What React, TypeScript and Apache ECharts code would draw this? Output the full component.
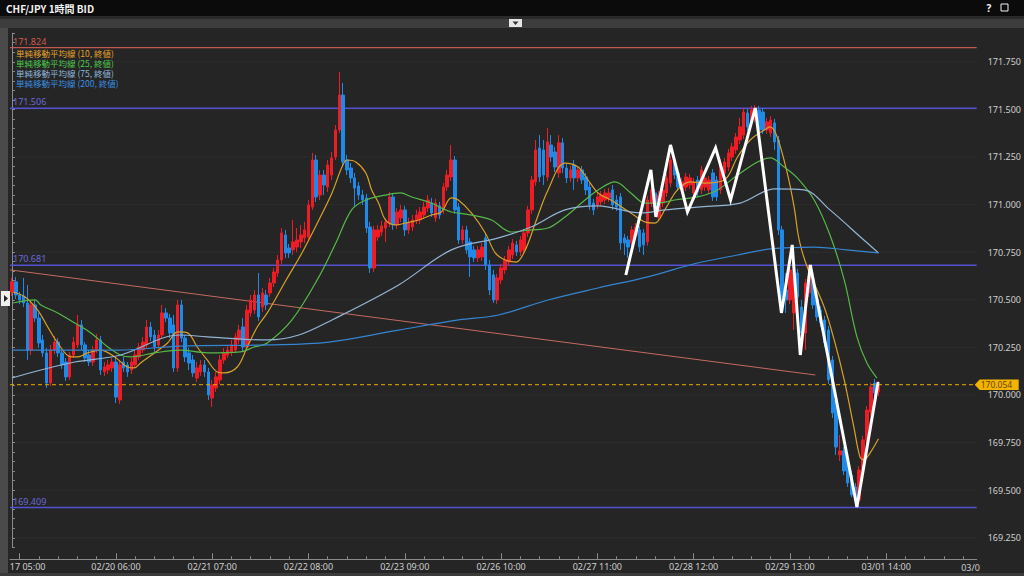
import React, { useEffect, useRef } from "react";
import * as echarts from "echarts";

const chartTitle = "CHF/JPY 1時間 BID";
const categoryCount = 251;

const opens = [
  170.541, 170.594, 170.525, 170.520, 170.483, 170.236, 170.473, 170.404, 170.289, 170.221,
  170.063, 170.236, 170.278, 170.221, 170.173, 170.095, 170.210, 170.263, 170.368, 170.263,
  170.210, 170.173, 170.236, 170.289, 170.121, 170.131, 170.142, 170.173, 169.974, 170.173,
  170.158, 170.131, 170.158, 170.200, 170.236, 170.263, 170.357, 170.315, 170.263, 170.315,
  170.431, 170.404, 170.368, 170.142, 170.473, 170.299, 170.221, 170.184, 170.089, 170.121,
  170.158, 170.121, 169.984, 170.037, 170.079, 170.184, 170.210, 170.226, 170.236, 170.289,
  170.357, 170.252, 170.431, 170.446, 170.525, 170.462, 170.525, 170.536, 170.588, 170.641,
  170.709, 170.840, 170.772, 170.762, 170.777, 170.804, 170.825, 170.830, 170.987, 171.234,
  171.050, 171.155, 171.092, 171.155, 171.250, 171.392, 171.575, 171.234, 171.192, 171.140,
  171.098, 171.050, 171.035, 170.882, 170.667, 170.830, 170.856, 170.877, 170.903, 171.040,
  170.893, 170.930, 170.972, 170.867, 170.882, 170.919, 170.919, 170.945, 170.982, 171.008,
  170.930, 170.993, 170.972, 171.092, 171.145, 171.234, 170.987, 170.814, 170.867, 170.804,
  170.762, 170.720, 170.725, 170.825, 170.683, 170.630, 170.499, 170.604, 170.657, 170.698,
  170.735, 170.788, 170.751, 170.762, 170.851, 170.972, 171.119, 171.297, 171.287, 171.145,
  171.313, 171.276, 171.166, 171.324, 171.192, 171.140, 171.208, 171.140, 171.182, 171.145,
  171.092, 171.008, 170.998, 171.014, 171.024, 171.035, 171.077, 171.024, 171.040, 170.825,
  170.814, 170.798, 170.840, 170.867, 170.851, 170.804, 171.008, 171.061, 170.935, 171.008,
  171.061, 171.113, 171.234, 171.166, 171.077, 171.092, 171.103, 171.061, 171.129, 171.077,
  171.092, 171.077, 171.166, 171.129, 171.077, 171.166, 171.197, 171.250, 171.287, 171.339,
  171.365, 171.481, 171.429, 171.455, 171.497, 171.486, 171.392, 171.376, 171.429, 171.339,
  170.867, 170.551, 170.499, 170.431, 170.641, 170.462, 170.326, 170.536, 170.604, 170.499,
  170.446, 170.394, 170.341, 170.184, 169.974, 169.685, 169.706, 169.659, 169.580, 169.517,
  169.449, 169.606, 169.764, 169.911, 170.063, 170.016,
];

const closes = [
  170.594, 170.525, 170.499, 170.483, 170.236, 170.473, 170.404, 170.273, 170.221, 170.063,
  170.236, 170.278, 170.221, 170.158, 170.095, 170.210, 170.278, 170.368, 170.263, 170.194,
  170.173, 170.236, 170.289, 170.131, 170.147, 170.158, 170.173, 169.989, 170.158, 170.142,
  170.121, 170.173, 170.210, 170.252, 170.278, 170.357, 170.305, 170.252, 170.315, 170.431,
  170.404, 170.326, 170.142, 170.473, 170.299, 170.200, 170.168, 170.116, 170.142, 170.158,
  170.121, 170.000, 170.053, 170.095, 170.184, 170.221, 170.236, 170.263, 170.305, 170.341,
  170.252, 170.446, 170.499, 170.525, 170.410, 170.536, 170.473, 170.588, 170.646, 170.709,
  170.851, 170.746, 170.746, 170.804, 170.814, 170.840, 170.867, 170.998, 171.234, 171.040,
  171.155, 171.103, 171.208, 171.245, 171.392, 171.575, 171.224, 171.182, 171.140, 171.087,
  171.050, 171.024, 170.877, 170.667, 170.867, 170.867, 170.888, 170.909, 171.040, 170.893,
  170.961, 170.972, 170.867, 170.903, 170.919, 170.945, 170.961, 170.987, 171.024, 170.956,
  171.008, 170.945, 171.092, 171.155, 171.234, 170.972, 170.814, 170.867, 170.762, 170.725,
  170.720, 170.762, 170.777, 170.683, 170.551, 170.499, 170.615, 170.667, 170.709, 170.762,
  170.798, 170.751, 170.814, 170.851, 170.972, 171.129, 171.287, 171.145, 171.155, 171.329,
  171.250, 171.197, 171.324, 171.192, 171.140, 171.182, 171.140, 171.182, 171.129, 171.077,
  170.998, 170.972, 171.040, 171.050, 171.061, 171.061, 170.998, 170.987, 170.798, 170.798,
  170.777, 170.867, 170.882, 170.777, 170.788, 171.024, 171.077, 170.987, 171.050, 171.077,
  171.140, 171.234, 171.155, 171.092, 171.119, 171.145, 171.140, 171.119, 171.066, 171.182,
  171.140, 171.129, 171.040, 171.040, 171.218, 171.224, 171.271, 171.303, 171.355, 171.408,
  171.486, 171.408, 171.497, 171.507, 171.392, 171.392, 171.434, 171.444, 171.329, 170.867,
  170.515, 170.499, 170.657, 170.641, 170.515, 170.326, 170.588, 170.620, 170.473, 170.410,
  170.378, 170.273, 170.079, 169.905, 169.727, 169.706, 169.601, 169.538, 169.475, 169.449,
  169.606, 169.764, 169.921, 170.042, 170.011, 170.053,
];

const lows = [
  170.520, 170.504, 170.478, 170.462, 170.184, 170.210, 170.383, 170.247, 170.200, 170.037,
  170.047, 170.215, 170.200, 170.137, 170.074, 170.079, 170.194, 170.247, 170.236, 170.173,
  170.152, 170.152, 170.221, 170.105, 170.100, 170.110, 170.121, 169.958, 169.953, 170.121,
  170.095, 170.110, 170.142, 170.184, 170.221, 170.247, 170.284, 170.226, 170.242, 170.299,
  170.383, 170.299, 170.121, 170.121, 170.278, 170.173, 170.131, 170.095, 170.068, 170.100,
  170.095, 169.974, 169.937, 170.016, 170.058, 170.163, 170.194, 170.205, 170.221, 170.268,
  170.226, 170.236, 170.410, 170.425, 170.389, 170.436, 170.446, 170.515, 170.567, 170.620,
  170.688, 170.720, 170.720, 170.735, 170.751, 170.772, 170.798, 170.814, 170.972, 171.014,
  171.024, 171.050, 171.066, 171.129, 171.234, 171.376, 171.203, 171.155, 171.113, 170.987,
  171.024, 170.998, 170.851, 170.641, 170.646, 170.809, 170.835, 170.804, 170.882, 170.867,
  170.872, 170.909, 170.835, 170.846, 170.861, 170.898, 170.898, 170.924, 170.961, 170.935,
  170.909, 170.924, 170.951, 171.071, 171.124, 170.951, 170.793, 170.793, 170.741, 170.620,
  170.698, 170.698, 170.704, 170.657, 170.525, 170.483, 170.478, 170.583, 170.636, 170.678,
  170.714, 170.730, 170.730, 170.741, 170.830, 170.951, 171.098, 171.119, 171.103, 171.124,
  171.224, 171.171, 171.140, 171.166, 171.113, 171.119, 171.077, 171.119, 171.108, 171.050,
  170.972, 170.945, 170.977, 170.993, 171.003, 171.014, 170.972, 170.966, 170.762, 170.735,
  170.720, 170.777, 170.819, 170.751, 170.735, 170.783, 170.987, 170.966, 170.914, 170.987,
  171.040, 171.092, 171.134, 171.071, 171.056, 171.071, 171.082, 171.040, 171.045, 171.056,
  171.071, 171.056, 171.019, 171.019, 171.056, 171.145, 171.176, 171.229, 171.266, 171.318,
  171.344, 171.387, 171.408, 171.434, 171.371, 171.371, 171.371, 171.355, 171.287, 170.840,
  170.431, 170.431, 170.478, 170.341, 170.494, 170.263, 170.236, 170.515, 170.452, 170.389,
  170.357, 170.252, 170.058, 169.879, 169.685, 169.653, 169.580, 169.517, 169.464, 169.412,
  169.428, 169.585, 169.743, 169.890, 169.989, 169.995,
];

const highs = [
  170.615, 170.620, 170.541, 170.615, 170.578, 170.499, 170.499, 170.431, 170.315, 170.247,
  170.263, 170.310, 170.299, 170.236, 170.194, 170.226, 170.305, 170.420, 170.394, 170.278,
  170.236, 170.257, 170.320, 170.310, 170.173, 170.184, 170.194, 170.194, 170.184, 170.200,
  170.173, 170.194, 170.236, 170.273, 170.305, 170.394, 170.383, 170.341, 170.341, 170.473,
  170.457, 170.425, 170.420, 170.499, 170.499, 170.315, 170.247, 170.210, 170.173, 170.184,
  170.184, 170.142, 170.079, 170.121, 170.210, 170.247, 170.263, 170.289, 170.326, 170.368,
  170.404, 170.473, 170.525, 170.551, 170.641, 170.562, 170.551, 170.615, 170.667, 170.735,
  170.877, 170.867, 170.793, 170.919, 170.877, 170.893, 170.909, 171.024, 171.271, 171.261,
  171.182, 171.182, 171.234, 171.276, 171.418, 171.696, 171.639, 171.261, 171.218, 171.166,
  171.119, 171.077, 171.056, 170.909, 170.888, 170.893, 170.914, 170.930, 171.066, 171.061,
  170.982, 170.998, 170.993, 170.930, 170.945, 170.972, 170.987, 171.014, 171.050, 171.035,
  171.030, 171.014, 171.113, 171.182, 171.313, 171.255, 171.008, 170.888, 170.888, 170.825,
  170.783, 170.783, 170.798, 170.846, 170.709, 170.657, 170.636, 170.688, 170.730, 170.783,
  170.819, 170.809, 170.835, 170.872, 170.993, 171.150, 171.339, 171.365, 171.339, 171.402,
  171.365, 171.303, 171.365, 171.350, 171.213, 171.203, 171.234, 171.203, 171.203, 171.166,
  171.113, 171.030, 171.061, 171.071, 171.082, 171.087, 171.103, 171.050, 171.061, 170.846,
  170.835, 170.888, 170.903, 170.888, 170.872, 171.045, 171.098, 171.082, 171.071, 171.098,
  171.161, 171.255, 171.255, 171.187, 171.140, 171.166, 171.161, 171.140, 171.150, 171.203,
  171.161, 171.150, 171.187, 171.150, 171.240, 171.245, 171.292, 171.324, 171.376, 171.455,
  171.507, 171.502, 171.518, 171.523, 171.518, 171.507, 171.455, 171.465, 171.450, 171.360,
  170.888, 170.641, 170.735, 170.683, 170.662, 170.499, 170.609, 170.683, 170.625, 170.520,
  170.467, 170.415, 170.362, 170.205, 169.995, 169.790, 169.727, 169.680, 169.601, 169.538,
  169.627, 169.785, 169.942, 170.063, 170.084, 170.074,
];

// Moving averages, read as [bar index, price]
const ma10Points = [
  [0.3, 170.541], [3.4, 170.515], [6.7, 170.446], [9.3, 170.357], [11.9, 170.273], [15.3, 170.2],
  [17.1, 170.2], [19.7, 170.221], [23.0, 170.236], [26.7, 170.2], [30.0, 170.147], [31.8, 170.142],
  [33.4, 170.168], [37.0, 170.221], [40.4, 170.273], [43.0, 170.331], [45.6, 170.326], [48.1, 170.252],
  [50.7, 170.184], [53.3, 170.121], [55.1, 170.116], [58.5, 170.147], [61.1, 170.252], [63.7, 170.357],
  [66.3, 170.431], [71.2, 170.604], [75.3, 170.746], [79.7, 170.919], [83.1, 171.061], [85.7, 171.197],
  [87.0, 171.234], [89.3, 171.224], [91.9, 171.166], [93.4, 171.077], [95.2, 171.008], [97.0, 170.919],
  [99.6, 170.893], [102.2, 170.903], [105.6, 170.919], [108.9, 170.945], [111.5, 170.961], [114.1, 171.035],
  [115.9, 171.024], [119.3, 170.956], [122.9, 170.851], [125.5, 170.746], [128.1, 170.709], [130.9, 170.698],
  [133.3, 170.762], [135.9, 170.903], [139.2, 171.077], [143.6, 171.218], [147.0, 171.197], [149.6, 171.129],
  [152.2, 171.061], [155.5, 171.024], [160.7, 170.956], [164.3, 170.909], [166.9, 170.903], [169.5, 170.972],
  [172.8, 171.077], [176.2, 171.119], [179.8, 171.113], [185.0, 171.129], [188.4, 171.25], [191.7, 171.339],
  [195.4, 171.392], [196.9, 171.408], [198.7, 171.355], [201.3, 171.166], [203.1, 170.987], [204.4, 170.814],
  [206.5, 170.672], [210.9, 170.462], [213.5, 170.289], [216.1, 170.079], [218.6, 169.832], [220.2, 169.674],
  [221.2, 169.659], [222.8, 169.695], [225.0, 169.77],
];
const ma25Points = [
  [0.3, 170.483], [6.0, 170.499], [7.5, 170.473], [11.9, 170.431], [16.3, 170.378], [20.5, 170.326],
  [24.9, 170.252], [28.2, 170.21], [30.8, 170.2], [37.0, 170.221], [43.7, 170.236], [50.7, 170.221],
  [59.3, 170.226], [62.9, 170.252], [66.3, 170.273], [72.7, 170.394], [79.7, 170.62], [84.1, 170.798],
  [88.2, 170.972], [91.9, 171.024], [97.0, 171.05], [100.9, 171.061], [103.8, 171.04], [108.9, 171.008],
  [111.5, 170.982], [114.1, 170.961], [119.3, 170.945], [124.5, 170.919], [129.6, 170.856], [134.8, 170.867],
  [139.2, 170.877], [143.6, 170.935], [148.8, 171.024], [152.2, 171.077], [156.6, 171.119], [160.7, 171.061],
  [164.3, 171.008], [167.7, 171.008], [172.1, 171.024], [178.0, 171.04], [183.2, 171.077], [188.4, 171.155],
  [193.6, 171.224], [196.9, 171.245], [200.5, 171.197], [203.9, 171.14], [208.3, 171.024], [212.4, 170.84],
  [216.1, 170.604], [219.4, 170.305], [222.0, 170.168], [224.6, 170.089],
];
const ma75Points = [
  [0, 170.089], [7.5, 170.131], [16.3, 170.173], [28.2, 170.21], [43.7, 170.315], [50.7, 170.305],
  [66.3, 170.289], [74.5, 170.315], [83.1, 170.394], [100.4, 170.578], [114.1, 170.762], [126.3, 170.825],
  [134.8, 170.882], [143.6, 170.972], [152.2, 170.993], [163.3, 170.956], [169.5, 170.972], [178.0, 170.987],
  [189.1, 171.008], [198.0, 171.082], [205.7, 171.077], [212.4, 170.972], [221.2, 170.814], [225.0, 170.746],
];
const ma200Points = [
  [0, 170.236], [27.9, 170.236], [43.5, 170.257], [66.8, 170.263], [82.3, 170.278], [100.4, 170.341],
  [116.0, 170.394], [126.3, 170.42], [139.2, 170.499], [152.2, 170.562], [165.1, 170.62], [178.0, 170.693],
  [188.4, 170.735], [196.9, 170.767], [208.3, 170.777], [216.8, 170.762], [225.0, 170.746],
];

const zigzagPoints = [
  [159.4, 170.63], [165.9, 171.182], [167.2, 170.935], [171.0, 171.313], [175.4, 170.961],
  [182.7, 171.297], [186.6, 171.024], [193.0, 171.507], [199.8, 170.431], [202.6, 170.788],
  [204.7, 170.21], [207.3, 170.683], [219.4, 169.412], [224.9, 170.068],
];
const trendPoints = [[-0.5, 170.657], [208.6, 170.105]];

const resistanceLevel = 171.824;
const rangeLevels = [171.506, 170.681, 169.409];
const currentPrice = 170.054;
const yLabelValues = [169.25, 169.5, 169.75, 170, 170.25, 170.5, 170.75, 171, 171.25, 171.5, 171.75];

const xTickIndex = [2, 27, 52, 77, 102, 127, 152, 177, 202, 227];
const xTickLabels = [
  "17 05:00", "02/20 06:00", "02/21 07:00", "02/22 08:00", "02/23 09:00",
  "02/26 10:00", "02/27 11:00", "02/28 12:00", "02/29 13:00", "03/01 14:00",
];
const trailingTickLabel = "03/0";

const maNames = [
  "単純移動平均線 (10, 終値)",
  "単純移動平均線 (25, 終値)",
  "単純移動平均線 (75, 終値)",
  "単純移動平均線 (200, 終値)",
];
const maColors = ["#d9a12a", "#56b848", "#93b5d6", "#3585d2"];
const maTextColors = ["#e3a22c", "#4cc84a", "#8fb6dc", "#3a8de0"];

const FONT = '"Noto Sans", "Noto Sans CJK JP", sans-serif';
const JP_FONT = '"Noto Sans CJK JP", "Noto Sans", sans-serif';

function hLine(name: string, value: number, lineStyle: any, z: number) {
  return {
    type: "line",
    name,
    xAxisIndex: 2,
    yAxisIndex: 0,
    data: [[-0.5, value], [categoryCount - 0.5, value]],
    showSymbol: false,
    symbol: "none",
    color: lineStyle.color,
    itemStyle: { color: lineStyle.color },
    lineStyle,
    z,
    silent: true,
  };
}

export default function App() {
  const ref = useRef<HTMLDivElement>(null);

  useEffect(() => {
    if (!ref.current) return;
    const chart = echarts.init(ref.current, undefined, { renderer: "svg" });

    const categories = Array.from({ length: categoryCount }, (_, i) => String(i));
    const candleData = opens.map((o, i) => [o, closes[i], lows[i], highs[i]]);
    const tickSet = new Set(xTickIndex);

    const maSeries = [ma10Points, ma25Points, ma75Points, ma200Points].map((pts, k) => ({
      type: "line",
      name: maNames[k],
      xAxisIndex: 2,
      yAxisIndex: 0,
      data: pts,
      smooth: 0.35,
      showSymbol: false,
      symbol: "none",
      color: maColors[k],
      lineStyle: { color: maColors[k], width: 1.2 },
      z: 3,
      silent: true,
    }));

    const baseGraphics: any[] = [
      { type: "rect", shape: { x: 0, y: 0, width: 1024, height: 16 }, style: { fill: "#0b0b0b" }, z: 100 },
      {
        type: "text", x: 6, y: 8, z: 101,
        style: { text: chartTitle, fill: "#f2f2f2", font: `bold 10px ${JP_FONT}`, verticalAlign: "middle" },
      },
      {
        type: "text", x: 989, y: 8, z: 101,
        style: { text: "?", fill: "#f2f2f2", font: `bold 10px ${FONT}`, verticalAlign: "middle", align: "center" },
      },
      { type: "rect", shape: { x: 1001, y: 4, width: 7, height: 7 }, style: { fill: "none", stroke: "#f2f2f2", lineWidth: 1 }, z: 101 },
      { type: "rect", shape: { x: 0, y: 16, width: 1024, height: 3 }, style: { fill: "#2a2a2a" }, z: 100 },
      { type: "rect", shape: { x: 0, y: 19, width: 1024, height: 9 }, style: { fill: "#3d3d3d" }, z: 100 },
      { type: "rect", shape: { x: 509, y: 19, width: 13, height: 8 }, style: { fill: "#e6e6e6" }, z: 101 },
      { type: "polygon", shape: { points: [[512.5, 21.5], [518.5, 21.5], [515.5, 25]] }, style: { fill: "#333" }, z: 102 },
      { type: "rect", shape: { x: 0, y: 28, width: 8, height: 548 }, style: { fill: "#4a4a4a" }, z: 100 },
      { type: "rect", shape: { x: 1, y: 291, width: 9, height: 15 }, style: { fill: "#efefef" }, z: 101 },
      { type: "polygon", shape: { points: [[4, 295], [4, 302], [8, 298.5]] }, style: { fill: "#222" }, z: 102 },
      { type: "rect", shape: { x: 0, y: 573, width: 1024, height: 3 }, style: { fill: "#3a3a3a" }, z: 100 },
      {
        type: "text", x: 980, y: 567, z: 50,
        style: { text: trailingTickLabel, fill: "#cfcfcf", font: `9px ${FONT}`, align: "right", verticalAlign: "middle" },
      },
      ...maNames.map((n, k) => ({
        type: "text",
        x: 16,
        y: [52.5, 62.8, 73, 83.3][k],
        z: 50,
        style: {
          text: n,
          fill: maTextColors[k],
          fontSize: 8.5,
          fontFamily: JP_FONT,
          lineHeight: 9.5,
          verticalAlign: "middle",
        },
      })),
    ];

    const option: any = {
      animation: false,
      backgroundColor: "#252525",
      textStyle: { fontFamily: FONT },
      grid: { left: 10, right: 44, top: 33.2, bottom: 28.7, containLabel: false },
      xAxis: [
        {
          type: "category",
          data: categories,
          boundaryGap: true,
          position: "bottom",
          offset: 12,
          axisLine: { show: true, lineStyle: { color: "#8a8a8a", width: 1 } },
          axisTick: {
            show: true,
            inside: true,
            length: 3,
            alignWithLabel: true,
            interval: (i: number) => i % 5 === 2,
            lineStyle: { color: "#8a8a8a" },
          },
          axisLabel: {
            show: true,
            interval: (i: number) => tickSet.has(i),
            formatter: (_v: string, i: number) => {
              const k = xTickIndex.indexOf(i);
              if (k < 0) return "";
              return k === 0 ? `{first|${xTickLabels[0]}}` : xTickLabels[k];
            },
            color: "#cfcfcf",
            fontSize: 9,
            fontFamily: FONT,
            margin: 3,
            rich: { first: { padding: [0, 0, 0, 16], color: "#cfcfcf", fontSize: 9, fontFamily: FONT } },
          },
          splitLine: { show: false },
        },
        {
          type: "category",
          data: categories,
          boundaryGap: true,
          position: "bottom",
          offset: 12,
          axisLine: { show: false },
          axisTick: {
            show: true,
            inside: true,
            length: 6,
            alignWithLabel: true,
            interval: (i: number) => tickSet.has(i),
            lineStyle: { color: "#8a8a8a" },
          },
          axisLabel: { show: false },
          splitLine: { show: false },
        },
        { type: "value", min: -0.5, max: categoryCount - 0.5, show: false },
      ],
      yAxis: [
        {
          type: "value",
          position: "right",
          offset: 6,
          min: 169.2,
          max: 171.9,
          interval: 0.05,
          axisLine: { show: true, lineStyle: { color: "#8a8a8a", width: 1 } },
          axisTick: { show: true, inside: false, length: 3, lineStyle: { color: "#8a8a8a" } },
          axisLabel: {
            show: true,
            margin: 5,
            color: "#cfcfcf",
            fontSize: 9,
            lineHeight: 9,
            fontFamily: FONT,
            formatter: (v: number) =>
              Math.abs(v * 4 - Math.round(v * 4)) < 1e-6 ? v.toFixed(3) : "",
          },
          splitLine: { show: false },
        },
      ],
      graphic: baseGraphics,
      series: [
        ...yLabelValues.map((v, k) =>
          hLine("grid" + k, v, { color: "rgba(255,255,255,0.07)", width: 1, type: "dotted" }, 1)
        ),
        hLine("resistance", resistanceLevel, { color: "#c25a50", width: 1.4, type: "solid" }, 1),
        ...rangeLevels.map((v, k) =>
          hLine("range" + k, v, { color: "#5252d2", width: 1.4, type: "solid" }, 1)
        ),
        {
          type: "line",
          name: "trend",
          xAxisIndex: 2,
          yAxisIndex: 0,
          data: trendPoints,
          showSymbol: false,
          symbol: "none",
          color: "#c46a60",
          lineStyle: { color: "#c46a60", width: 1 },
          z: 1,
          silent: true,
        },
        {
          type: "candlestick",
          xAxisIndex: 0,
          yAxisIndex: 0,
          data: candleData,
          barWidth: 3,
          itemStyle: {
            color: "#ee1c24",
            color0: "#1f8ae8",
            borderColor: "#ee1c24",
            borderColor0: "#1f8ae8",
            borderWidth: 1,
          },
          z: 2,
        },
        ...maSeries,
        hLine("price", currentPrice, { color: "#e8a800", width: 1, type: [4, 3] }, 4),
        {
          type: "line",
          xAxisIndex: 2,
          yAxisIndex: 0,
          data: zigzagPoints,
          showSymbol: false,
          symbol: "none",
          color: "#ffffff",
          lineStyle: { color: "#ffffff", width: 3, join: "miter" },
          z: 6,
          silent: true,
        },
      ],
    };

    chart.setOption(option);

    // Level labels and the price tag, placed through the chart's own scales
    const toPx = (x: number, y: number) =>
      chart.convertToPixel({ xAxisIndex: 2, yAxisIndex: 0 }, [x, y]) as number[];
    const levelLabels = [resistanceLevel, ...rangeLevels].map((v, k) => {
      const p = toPx(-0.5, v);
      return {
        type: "text",
        x: p[0] + 3,
        y: p[1] - 2,
        z: 20,
        style: {
          text: v.toFixed(3),
          fill: k === 0 ? "#d0584e" : "#6a6ad8",
          fontSize: 9,
          fontFamily: FONT,
          lineHeight: 9,
          verticalAlign: "bottom",
        },
      };
    });
    const pe = toPx(categoryCount - 0.5, currentPrice);
    const tx = pe[0] - 2;
    const ty = pe[1];
    const priceTag = [
      {
        type: "polygon",
        z: 20,
        shape: {
          points: [
            [tx, ty], [tx + 5, ty - 5.2], [tx + 44, ty - 5.2], [tx + 44, ty + 5.2], [tx + 5, ty + 5.2],
          ],
        },
        style: { fill: "#f2b400" },
      },
      {
        type: "text",
        x: tx + 6,
        y: ty - 0.5,
        z: 21,
        style: {
          text: currentPrice.toFixed(3),
          fill: "#6b4600",
          fontSize: 8.5,
          lineHeight: 8.5,
          fontFamily: FONT,
          verticalAlign: "middle",
        },
      },
    ];

    chart.setOption({ graphic: [...baseGraphics, ...levelLabels, ...priceTag] });
    return () => chart.dispose();
  }, []);

  return (
    <div
      ref={ref}
      style={{ position: "fixed", left: 0, top: 0, width: 1024, height: 576 }}
    />
  );
}
